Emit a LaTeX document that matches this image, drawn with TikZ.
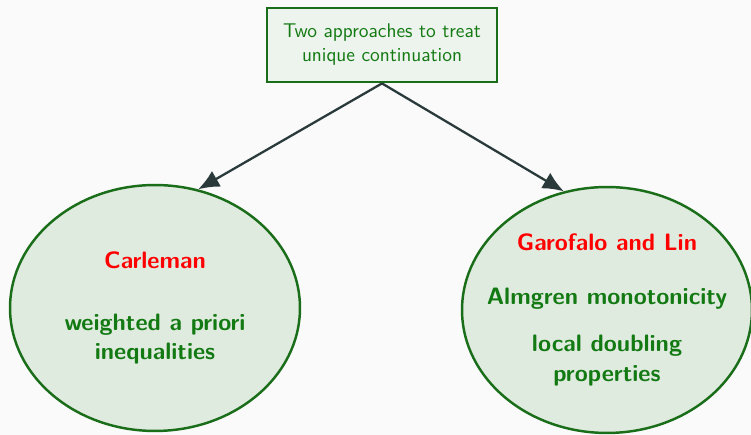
\documentclass[tikz,border=0pt]{standalone}
\usetikzlibrary{shapes.geometric,arrows.meta}
\definecolor{bg}{HTML}{FAFAFA}
\definecolor{dgreen}{HTML}{1A6E1A}
\definecolor{tgreen}{HTML}{137A13}
\definecolor{boxfill}{HTML}{EDF3ED}
\definecolor{ellfill}{HTML}{E0EBE0}
\definecolor{arrowc}{HTML}{2A3A3A}
\begin{document}
\begin{tikzpicture}[x=0.02cm,y=-0.02cm,
  topbox/.style={draw=dgreen,line width=1.6pt,fill=boxfill,text=tgreen,align=center,
    font=\sffamily\fontsize{11.3}{13.7}\selectfont,minimum width=4.6cm,minimum height=1.48cm,inner sep=0pt},
  bubble/.style={ellipse,draw=dgreen,line width=1.4pt,fill=ellfill,minimum width=5.8cm,minimum height=4.92cm,inner sep=0pt},
  bubbletext/.style={text=tgreen,align=center,font=\sffamily\bfseries\fontsize{13.5}{16.8}\selectfont,inner sep=0pt},
  conn/.style={draw=arrowc,line width=1.3pt,-{Latex[length=0.42cm,width=0.36cm]}}]
\fill[bg] (0,0) rectangle (751,435);
\useasboundingbox (0,0) rectangle (751,435);
\node[topbox] (top) at (382,45) {Two approaches to treat\\unique continuation};
\node[bubble,label={[bubbletext]center:{\textcolor{red}{Carleman}\\[18.5pt]weighted a priori\\inequalities}}] (L) at (155,308) {};
\node[bubble,label={[bubbletext]center:{\textcolor{red}{Garofalo and Lin}\\[14pt]Almgren monotonicity\\[10pt]local doubling\\properties}}] (R) at (607,310) {};
\draw[conn] (top.south) -- (L.70);
\draw[conn] (top.south) -- (R.110);
\end{tikzpicture}
\end{document}
